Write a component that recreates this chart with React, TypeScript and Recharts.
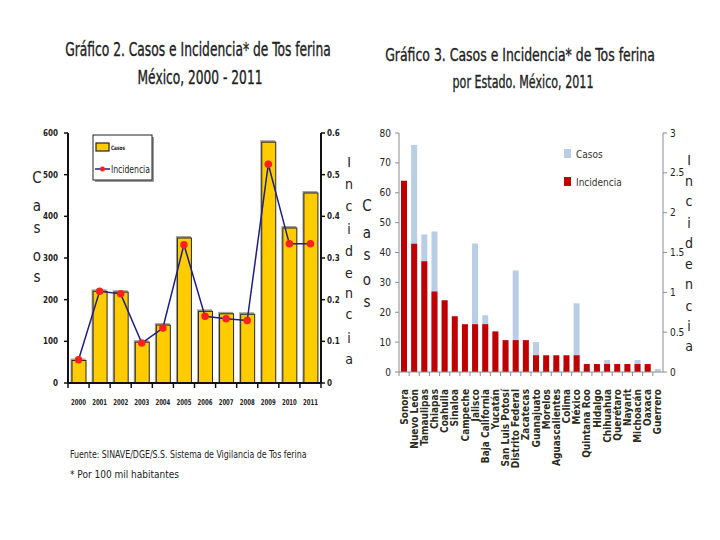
import React, { useLayoutEffect, useRef, useState } from "react"
import { Bar, ComposedChart, Line, XAxis, YAxis } from "recharts"

// Gráfico 2: casos e incidencia nacional por año
const years = ["2000", "2001", "2002", "2003", "2004", "2005", "2006", "2007", "2008", "2009", "2010", "2011"]
const casosAnuales = [54, 220, 218, 98, 139, 348, 172, 166, 165, 578, 372, 456]
const incidenciaAnual = [0.056, 0.22, 0.214, 0.096, 0.132, 0.332, 0.16, 0.154, 0.15, 0.525, 0.334, 0.334]
const casosTicks = [0, 100, 200, 300, 400, 500, 600]
const incidenciaTicks = [0, 0.1, 0.2, 0.3, 0.4, 0.5, 0.6]

// Gráfico 3: casos e incidencia por estado, 2011
const estados = [
  "Sonora", "Nuevo León", "Tamaulipas", "Chiapas", "Coahuila", "Sinaloa", "Campeche", "Jalisco",
  "Baja California", "Yucatán", "San Luis Potosí", "Distrito Federal", "Zacatecas", "Guanajuato",
  "Morelos", "Aguascalientes", "Colima", "México", "Quintana Roo", "Hidalgo", "Chihuahua",
  "Querétaro", "Nayarit", "Michoacán", "Oaxaca", "Guerrero",
]
const casosEstado = [62, 76, 46, 47, 24, 10, 5, 43, 19, 13, 8, 34, 4, 10, 3, 3, 2, 23, 1, 2, 4, 1, 1, 4, 2, 1]
const incidenciaEstado = [
  2.4, 1.61, 1.39, 1.01, 0.9, 0.7, 0.6, 0.6, 0.6, 0.51, 0.4, 0.4, 0.4, 0.21, 0.21, 0.21, 0.21, 0.21,
  0.1, 0.1, 0.1, 0.1, 0.1, 0.1, 0.1, 0,
]
const casosEstadoTicks = [0, 10, 20, 30, 40, 50, 60, 70, 80]
const incidenciaEstadoTicks = [0, 0.5, 1, 1.5, 2, 2.5, 3]

const FONT = "'Liberation Sans Narrow', 'DejaVu Sans Condensed', 'Arial Narrow', sans-serif"
const BOLD_FONT = "'DejaVu Sans Condensed', 'Liberation Sans', sans-serif"

const anual = years.map((y, i) => ({ year: y, casos: casosAnuales[i], incidencia: incidenciaAnual[i] }))
const porEstado = estados.map((e, i) => ({ estado: e, casos: casosEstado[i], incidencia: incidenciaEstado[i] }))

const plot2Width = 253
const step2 = plot2Width / years.length
const plot3Width = 264
const step3 = plot3Width / estados.length

// squeezes a text horizontally so it fills the given width
function FitText({ x, y, width, anchor = "middle", children, ...rest }: any) {
  const ref = useRef<SVGTextElement>(null)
  const [sx, setSx] = useState(1)
  useLayoutEffect(() => {
    const w = ref.current ? ref.current.getBBox().width : 0
    if (w) setSx(width / w)
  }, [width])
  return (
    <text ref={ref} transform={`translate(${x},${y}) scale(${sx},1)`} textAnchor={anchor} {...rest}>
      {children}
    </text>
  )
}

function YellowBar(props: any) {
  const { x, y, width, height } = props
  if (!height) return null
  return (
    <g>
      <rect x={x - 1.5} y={y - 2} width={width + 1} height={height + 2} fill="#a8a39a" />
      <rect x={x} y={y} width={width} height={height} fill="#ffcc00" stroke="#2a2a2a" strokeWidth={1} />
    </g>
  )
}

function YearTick(props: any) {
  const { x, y, payload, index } = props
  return (
    <g>
      <line x1={x - step2 / 2} y1={y - 8} x2={x - step2 / 2} y2={y - 3} stroke="#111" strokeWidth={1.5} />
      {index === years.length - 1 && (
        <line x1={x + step2 / 2} y1={y - 8} x2={x + step2 / 2} y2={y - 3} stroke="#111" strokeWidth={1.5} />
      )}
      <FitText x={x} y={y + 14} width={15} fontSize={8} fontWeight="bold" fill="#222" fontFamily={FONT}>
        {payload.value}
      </FitText>
    </g>
  )
}

function EstadoTick(props: any) {
  const { x, y, payload } = props
  return (
    <g>
      <line x1={x - step3 / 2} y1={y - 8} x2={x - step3 / 2} y2={y - 4} stroke="#8c8c8c" />
      <text
        x={x}
        y={y + 9}
        transform={`rotate(-90, ${x}, ${y + 9})`}
        textAnchor="end"
        dy={3.5}
        fontSize={10}
        fontWeight="bold"
        fill="#2b2b1a"
        fontFamily={BOLD_FONT}
      >
        {payload.value}
      </text>
    </g>
  )
}

function StackedLetters({ text, x, ys, size }: { text: string; x: number; ys: number[]; size: number }) {
  return (
    <>
      {text.split("").map((c, i) => (
        <text key={i} x={x} y={ys[i]} textAnchor="middle" fontSize={size} fill="#222" fontFamily={FONT}>
          {c}
        </text>
      ))}
    </>
  )
}

function Overlay() {
  return (
    <svg width={720} height={540} style={{ position: "absolute", left: 0, top: 0, pointerEvents: "none" }}>
      {/* títulos */}
      <g stroke="#222" strokeWidth={0.35} fill="#222" fontFamily={FONT}>
        <FitText x={198} y={56} width={266} fontSize={19}>
          Gráfico 2. Casos e Incidencia* de Tos ferina
        </FitText>
        <FitText x={200} y={84} width={125} fontSize={19}>
          México, 2000 - 2011
        </FitText>
        <FitText x={520} y={61} width={270} fontSize={18}>
          Gráfico 3. Casos e Incidencia* de Tos ferina
        </FitText>
        <FitText x={523} y={88} width={141} fontSize={18}>
          por Estado. México, 2011
        </FitText>
      </g>

      {/* títulos de ejes */}
      <StackedLetters text="Casos" x={37} ys={[183, 211, 233, 261, 282]} size={15} />
      <StackedLetters text="Incidencia" x={349} ys={[167, 189, 211, 234, 256, 278, 298, 319, 343, 364]} size={14} />
      <StackedLetters text="Casos" x={367} ys={[211, 238, 260, 285, 307]} size={15} />
      <StackedLetters text="Incidencia" x={689} ys={[165, 186, 206, 228, 248, 269, 289, 311, 331, 351]} size={14} />

      {/* leyenda gráfico 2 */}
      <rect x={95} y={137} width={59} height={45} fill="#9a9a9a" />
      <rect x={93} y={135} width={59} height={45} fill="#fff" stroke="#222" strokeWidth={1} />
      <rect x={96} y={143} width={13} height={8} fill="#ffcc00" stroke="#222" strokeWidth={1.2} />
      <FitText x={111} y={150} width={14} anchor="start" fontSize={6} fontWeight="bold" fill="#222" fontFamily={FONT}>
        Casos
      </FitText>
      <line x1={95} y1={169} x2={110} y2={169} stroke="#1f1f80" strokeWidth={1.5} />
      <circle cx={102.5} cy={169} r={2.5} fill="#ff2020" />
      <FitText x={111} y={173} width={39} anchor="start" fontSize={10} fill="#222" fontFamily={FONT}>
        Incidencia
      </FitText>

      {/* leyenda gráfico 3 */}
      <rect x={564} y={149} width={7} height={9} fill="#b9cde5" />
      <text x={576} y={158} fontSize={10} fill="#333" fontFamily={FONT}>Casos</text>
      <rect x={564} y={177} width={7} height={9} fill="#c00000" />
      <text x={576} y={186} fontSize={10} fill="#333" fontFamily={FONT}>Incidencia</text>

      {/* notas */}
      <FitText x={70} y={458} width={237} anchor="start" fontSize={10} fill="#222" fontFamily={FONT}>
        Fuente: SINAVE/DGE/S.S.  Sistema de Vigilancia de Tos ferina
      </FitText>
      <text x={70} y={478} fontSize={10} fill="#222" fontFamily={FONT}>
        * Por 100 mil habitantes
      </text>
    </svg>
  )
}

export default function App() {
  return (
    <div style={{ position: "absolute", left: 0, top: 0, width: 720, height: 540, background: "#fff", overflow: "hidden" }}>
      <div style={{ position: "absolute", left: 0, top: 0 }}>
        <ComposedChart width={360} height={420} data={anual} margin={{ top: 133, right: 9, bottom: 7, left: 0 }}>
          <XAxis
            dataKey="year"
            axisLine={{ stroke: "#111", strokeWidth: 2 }}
            tickLine={false}
            tick={<YearTick />}
            height={30}
            interval={0}
          />
          <YAxis
            yAxisId="left"
            domain={[0, 600]}
            ticks={casosTicks}
            width={68}
            axisLine={{ stroke: "#111", strokeWidth: 2 }}
            tickLine={{ stroke: "#111", strokeWidth: 1.5 }}
            tickSize={4}
            tickMargin={6}
            tick={{ fontSize: 8, fontWeight: "bold", fill: "#222", fontFamily: FONT }}
          />
          <YAxis
            yAxisId="right"
            orientation="right"
            domain={[0, 0.6]}
            ticks={incidenciaTicks}
            width={30}
            axisLine={{ stroke: "#111", strokeWidth: 2 }}
            tickLine={{ stroke: "#111", strokeWidth: 1.5 }}
            tickSize={4}
            tickMargin={2}
            tick={{ fontSize: 8, fontWeight: "bold", fill: "#222", fontFamily: FONT }}
          />
          <Bar yAxisId="left" dataKey="casos" barSize={14} shape={<YellowBar />} isAnimationActive={false} />
          <Line
            yAxisId="right"
            dataKey="incidencia"
            stroke="#1f1f80"
            strokeWidth={1.5}
            dot={{ r: 3, fill: "#ff2020", stroke: "#ff2020" }}
            isAnimationActive={false}
          />
        </ComposedChart>
      </div>
      <div style={{ position: "absolute", left: 360, top: 0 }}>
        <ComposedChart
          width={360}
          height={540}
          data={porEstado}
          margin={{ top: 133, right: 27, bottom: 0, left: 0 }}
          barGap={-6}
        >
          <XAxis
            dataKey="estado"
            axisLine={{ stroke: "#8c8c8c" }}
            tickLine={false}
            tick={<EstadoTick />}
            height={168}
            interval={0}
          />
          <YAxis
            yAxisId="left"
            domain={[0, 80]}
            ticks={casosEstadoTicks}
            width={39}
            axisLine={{ stroke: "#8c8c8c" }}
            tickLine={{ stroke: "#8c8c8c" }}
            tickSize={4}
            tickMargin={4}
            tick={{ fontSize: 10, fill: "#222", fontFamily: FONT }}
          />
          <YAxis
            yAxisId="right"
            orientation="right"
            domain={[0, 3]}
            ticks={incidenciaEstadoTicks}
            width={30}
            axisLine={{ stroke: "#8c8c8c" }}
            tickLine={{ stroke: "#8c8c8c" }}
            tickSize={4}
            tickMargin={3}
            tick={{ fontSize: 10, fill: "#222", fontFamily: FONT }}
          />
          <Bar yAxisId="left" dataKey="casos" fill="#b9cde5" barSize={6} isAnimationActive={false} />
          <Bar yAxisId="right" dataKey="incidencia" fill="#c00000" barSize={6} isAnimationActive={false} />
        </ComposedChart>
      </div>
      <Overlay />
    </div>
  )
}
